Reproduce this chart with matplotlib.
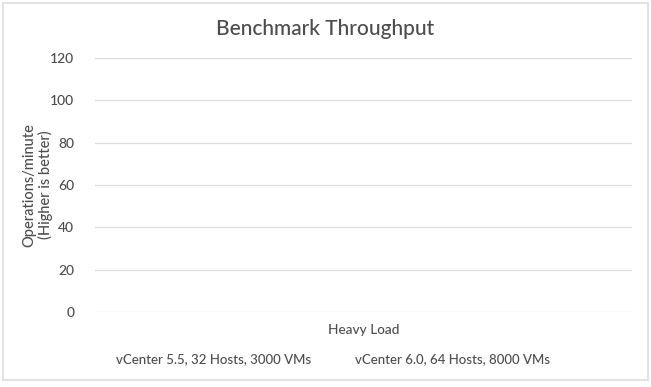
import numpy as np
import matplotlib
matplotlib.use('Agg')
import matplotlib.pyplot as plt
from matplotlib.patches import Rectangle, Patch

Categories = ["Heavy Load"]
SeriesNames = ["vCenter 5.5, 32 Hosts, 3000 VMs", "vCenter 6.0, 64 Hosts, 8000 VMs"]
SeriesValues = [[0], [0]]
YTicks = [0, 20, 40, 60, 80, 100, 120]

plt.rcParams['font.family'] = ['Lato', 'DejaVu Sans']
plt.rcParams['font.weight'] = 500
txt = '#4d4d4d'

fig = plt.figure(figsize=(6.51, 3.87), dpi=100)
fig.patches.append(Rectangle((3/651, 7/387), 645/651, 377/387, transform=fig.transFigure,
                             fill=False, edgecolor='#dddddd', lw=1.2))
ax = fig.add_axes([95/651, 75/387, 537/651, 254/387])

x = np.arange(len(Categories))
w = 0.3
for i in range(len(SeriesNames)):
    ax.bar(x + (i - 0.5)*w, SeriesValues[i], w, label=SeriesNames[i])

ax.set_ylim(0, 120)
ax.set_yticks(YTicks)
ax.set_xlim(-0.5, 0.5)
ax.set_xticks(x)
ax.set_xticklabels(Categories, fontsize=9.8, color=txt)
ax.tick_params(axis='x', length=0, pad=9)
ax.tick_params(axis='y', length=0, pad=15, labelsize=10, labelcolor=txt)
ax.grid(axis='y', color='#dddddd', lw=0.9)
ax.set_axisbelow(True)
for s in ax.spines.values():
    s.set_visible(False)

fig.text(38/651, 1 - 185/387, "Operations/minute\n(Higher is better)", rotation=90,
         ha='center', va='center', fontsize=10.5, color=txt, linespacing=1.1,
         multialignment='center')
fig.text(325/651, 1 - 29/387, "Benchmark Throughput", ha='center', va='center',
         fontsize=15, color=txt)

handles = [Patch(facecolor='none', edgecolor='none') for _ in SeriesNames]
fig.legend(handles, SeriesNames, loc='center', bbox_to_anchor=(333/651, 1 - 359/387), ncol=2,
           frameon=False, handlelength=0, handletextpad=0, columnspacing=3.3,
           prop={'size': 9.5}, labelcolor=txt)

plt.savefig("out.png", dpi=100)
